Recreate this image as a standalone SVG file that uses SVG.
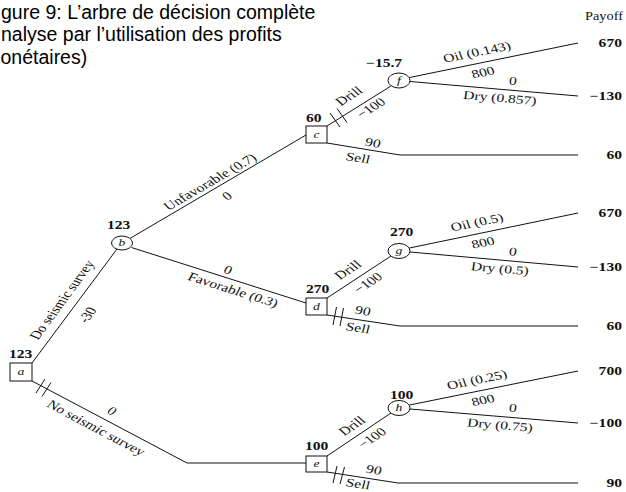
<svg xmlns="http://www.w3.org/2000/svg" width="626" height="492" viewBox="0 0 626 492">
<style>
.t{font-family:"Liberation Serif","Times New Roman",serif;font-size:12px;fill:#111}
.b{font-weight:bold}
.i{font-style:italic;font-size:10.5px}
.c{text-anchor:middle;dominant-baseline:central}
.e{text-anchor:end}
.ln{fill:none;stroke:#111;stroke-width:1}
.nd{fill:#fff;stroke:#111;stroke-width:1}
.title{font-family:"Liberation Sans",Arial,sans-serif;font-size:19.5px;fill:#000}
</style>
<rect width="626" height="492" fill="#fff"/>
<g id="title">
<text class="title" x="1" y="18.5">gure 9: L’arbre de décision complète</text>
<text class="title" x="1" y="41">nalyse par l’utilisation des profits</text>
<text class="title" x="0.5" y="63.5">onétaires)</text>
</g>
<g id="connectors">
<path class="ln" d="M32,363 L117,249"/>
<path class="ln" d="M130,238.4 L306,135"/>
<path class="ln" d="M131.5,247.5 L306,303"/>
<path class="ln" d="M32,381 L187,463 L306,463"/>
<path class="ln" d="M327,126 L391,86"/>
<path class="ln" d="M409.5,77.5 L578,43"/>
<path class="ln" d="M410,81.5 L578,96"/>
<path class="ln" d="M327,143 L400,155 L578,155"/>
<path class="ln" d="M327,298 L391,256"/>
<path class="ln" d="M409.5,248 L578,213"/>
<path class="ln" d="M410,252 L578,267"/>
<path class="ln" d="M327,315 L400,326 L578,326"/>
<path class="ln" d="M327,456 L391,413"/>
<path class="ln" d="M409.5,405 L578,371"/>
<path class="ln" d="M410,409 L578,423"/>
<path class="ln" d="M327,472 L398,483 L578,483"/>
<path class="ln" d="M36,393 L45,379 M42,396.5 L51,382.5"/>
<path class="ln" d="M330,113 L340,127 M337,108.5 L347,122.5"/>
<path class="ln" d="M333,325 L336.5,307 M340,326 L343.5,308"/>
<path class="ln" d="M333,483 L337,466 M340,484 L344.5,467"/>
</g>
<g id="edge-labels">
<text class="t c" transform="translate(62,300) scale(1.3,1) rotate(-60.5)">Do seismic survey</text>
<text class="t c" transform="translate(87.5,315) scale(1.3,1) rotate(-60.5)">-30</text>
<text class="t c" transform="translate(210,182) scale(1.3,1) rotate(-36.9)">Unfavorable (0.7)</text>
<text class="t c" transform="translate(227,196) scale(1.3,1) rotate(-36.9)">0</text>
<text class="t c" transform="translate(228,270) scale(1.3,1) rotate(22.3)">0</text>
<text class="t c" transform="translate(233,290) scale(1.3,1) rotate(22.3)">Favorable (0.3)</text>
<text class="t c" transform="translate(112,411) scale(1.3,1) rotate(34.5)">0</text>
<text class="t c" transform="translate(96,428) scale(1.3,1) rotate(34.5)">No seismic survey</text>
<text class="t c" transform="translate(349,96) scale(1.3,1) rotate(-39.1)">Drill</text>
<text class="t c" transform="translate(371,108) scale(1.3,1) rotate(-39.1)">−100</text>
<text class="t c" transform="translate(348,270) scale(1.3,1) rotate(-40.5)">Drill</text>
<text class="t c" transform="translate(368,283) scale(1.3,1) rotate(-40.5)">−100</text>
<text class="t c" transform="translate(352,426) scale(1.3,1) rotate(-41.1)">Drill</text>
<text class="t c" transform="translate(372,438) scale(1.3,1) rotate(-41.1)">−100</text>
<text class="t c" transform="translate(477,52.2) scale(1.3,1) rotate(-14.9)">Oil (0.143)</text>
<text class="t c" transform="translate(483,72.5) scale(1.3,1) rotate(-14.9)">800</text>
<text class="t c" transform="translate(513,81) scale(1.3,1) rotate(6.4)">0</text>
<text class="t c" transform="translate(500,98) scale(1.3,1) rotate(6.4)">Dry (0.857)</text>
<text class="t c" transform="translate(477,222.5) scale(1.3,1) rotate(-14.9)">Oil (0.5)</text>
<text class="t c" transform="translate(483,242.7) scale(1.3,1) rotate(-14.9)">800</text>
<text class="t c" transform="translate(513,251.7) scale(1.3,1) rotate(6.4)">0</text>
<text class="t c" transform="translate(500,268.7) scale(1.3,1) rotate(6.4)">Dry (0.5)</text>
<text class="t c" transform="translate(477,379.9) scale(1.3,1) rotate(-14.9)">Oil (0.25)</text>
<text class="t c" transform="translate(483,400.2) scale(1.3,1) rotate(-14.9)">800</text>
<text class="t c" transform="translate(513,408.1) scale(1.3,1) rotate(6.4)">0</text>
<text class="t c" transform="translate(500,425.2) scale(1.3,1) rotate(6.4)">Dry (0.75)</text>
<text class="t c" transform="translate(373,143) scale(1.3,1) rotate(11.4)">90</text>
<text class="t c" transform="translate(358,158) scale(1.3,1) rotate(11.4)">Sell</text>
<text class="t c" transform="translate(363,311) scale(1.3,1) rotate(11.4)">90</text>
<text class="t c" transform="translate(358,328) scale(1.3,1) rotate(11.4)">Sell</text>
<text class="t c" transform="translate(374,470) scale(1.3,1) rotate(11.4)">90</text>
<text class="t c" transform="translate(358,484) scale(1.3,1) rotate(11.4)">Sell</text>
</g>
<g id="node-a">
<rect class="nd" x="10" y="363" width="22" height="18"/>
<text class="t i c" transform="translate(21,372) scale(1.3,1)">a</text>
<text class="t b" transform="translate(9,358) scale(1.3,1)">123</text>
</g>
<g id="node-b">
<ellipse class="nd" cx="122" cy="243" rx="10.5" ry="7"/>
<text class="t i c" transform="translate(122,243) scale(1.3,1)">b</text>
<text class="t b" transform="translate(107,229) scale(1.3,1)">123</text>
</g>
<g id="node-c">
<rect class="nd" x="306" y="126" width="21" height="17"/>
<text class="t i c" transform="translate(316.5,134.5) scale(1.3,1)">c</text>
<text class="t b" transform="translate(306,122) scale(1.3,1)">60</text>
</g>
<g id="node-d">
<rect class="nd" x="306" y="298" width="21" height="17"/>
<text class="t i c" transform="translate(316.5,306.5) scale(1.3,1)">d</text>
<text class="t b" transform="translate(306,293) scale(1.3,1)">270</text>
</g>
<g id="node-e">
<rect class="nd" x="306" y="456" width="21" height="16"/>
<text class="t i c" transform="translate(316.5,464) scale(1.3,1)">e</text>
<text class="t b" transform="translate(305,450) scale(1.3,1)">100</text>
</g>
<g id="node-f">
<ellipse class="nd" cx="399" cy="80.5" rx="11" ry="7.5"/>
<text class="t i c" transform="translate(399,80.5) scale(1.3,1)">f</text>
<text class="t b" transform="translate(366,67) scale(1.3,1)">−15.7</text>
</g>
<g id="node-g">
<ellipse class="nd" cx="399" cy="251" rx="11" ry="7.5"/>
<text class="t i c" transform="translate(399,251) scale(1.3,1)">g</text>
<text class="t b" transform="translate(390,236) scale(1.3,1)">270</text>
</g>
<g id="node-h">
<ellipse class="nd" cx="399" cy="408" rx="11" ry="7.5"/>
<text class="t i c" transform="translate(399,408) scale(1.3,1)">h</text>
<text class="t b" transform="translate(390,399) scale(1.3,1)">100</text>
</g>
<g id="payoffs">
<text class="t e" transform="translate(623,20) scale(1.25,1)" style="font-size:11.5px">Payoff</text>
<text class="t b e" transform="translate(622,47) scale(1.3,1)">670</text>
<text class="t b e" transform="translate(622,100) scale(1.3,1)">−130</text>
<text class="t b e" transform="translate(622,159) scale(1.3,1)">60</text>
<text class="t b e" transform="translate(622,217) scale(1.3,1)">670</text>
<text class="t b e" transform="translate(622,271) scale(1.3,1)">−130</text>
<text class="t b e" transform="translate(622,330) scale(1.3,1)">60</text>
<text class="t b e" transform="translate(622,375) scale(1.3,1)">700</text>
<text class="t b e" transform="translate(622,427) scale(1.3,1)">−100</text>
<text class="t b e" transform="translate(622,487) scale(1.3,1)">90</text>
</g>
</svg>
